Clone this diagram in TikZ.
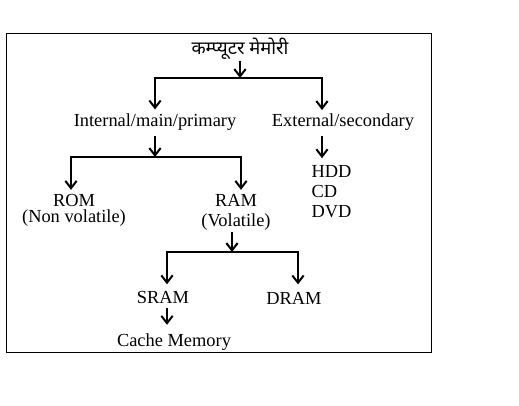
\documentclass[tikz,border=0pt]{standalone}
\usepackage{fontspec}
\setmainfont{Liberation Serif}
\newfontfamily\hindifont[Script=Devanagari]{Noto Sans}
\usetikzlibrary{arrows.meta}

\tikzset{every picture/.style={line width=0.75pt}}
\tikzset{
  lbl/.style={inner sep=0.75pt, font=\fontsize{13.8}{15}\selectfont},
  arr/.style={line width=1.5pt, -{Straight Barb[length=5.5pt,width=8.5pt]}},
}

\begin{document}
\begin{tikzpicture}[x=0.75pt,y=0.75pt,yscale=-1,xscale=1]
    \useasboundingbox (0,0) rectangle (519,406);

    %Shape: Rectangle [frame]
    \draw   (6,34) -- (431,34) -- (431,353) -- (6,353) -- cycle ;

    % Text Node
    \node[lbl] (mem) at (240,48.5) {\hindifont कम्प्यूटर मेमोरी};
    % Text Node
    \node[lbl] (int) at (155,122.5) {Internal/main/primary};
    % Text Node
    \node[lbl] (ext) at (343,122.5) {External/secondary};
    % Text Node
    \node[lbl, anchor=north, align=center] (rom) at (74,192.5) {ROM\\[-2.5pt](Non volatile)};
    % Text Node
    \node[lbl, anchor=north, align=center] (ram) at (236,192.5) {RAM\\(Volatile)};
    % Text Node
    \node[lbl, anchor=north west, align=left] (hdd) at (310,163.5) {HDD\\CD\\DVD};
    % Text Node
    \node[lbl] (sram) at (163,298) {SRAM};
    % Text Node
    \node[lbl] (dram) at (294,298) {DRAM};
    % Text Node
    \node[lbl] (cache) at (174,342) {Cache Memory};

    % branch points
    \coordinate (b1) at (240,78);
    \coordinate (b2) at (155,157);
    \coordinate (b3) at (232,252);
    \coordinate (e1) at (322,110);

    %Straight Lines
    \draw[arr] (mem) -- (b1);
    \draw[arr, shorten >=2.4pt] (b1) -| (int.north);
    \draw[arr] (b1) -| (e1);
    \draw[arr, shorten <=3pt] (int.south) -- (b2);
    \draw[arr, shorten >=2pt] (b2) -| ([xshift=-2.25pt]rom.north);
    \draw[arr, shorten >=2pt] (b2) -| ([xshift=3.75pt]ram.north);
    \draw[arr, shorten <=3pt, shorten >=4pt] (e1 |- ext.south) -- (e1 |- hdd.north);
    \draw[arr] (ram.south -| b3) -- (b3);
    \draw[arr, shorten >=4.5pt] (b3) -| ([xshift=3pt]sram.north);
    \draw[arr, shorten >=4.5pt] (b3) -| ([xshift=3pt]dram.north);
    \draw[arr, shorten <=1.5pt, shorten >=5.5pt] ([xshift=3pt]sram.south) -- ([xshift=3pt]sram.south |- cache.north);

\end{tikzpicture}
\end{document}
